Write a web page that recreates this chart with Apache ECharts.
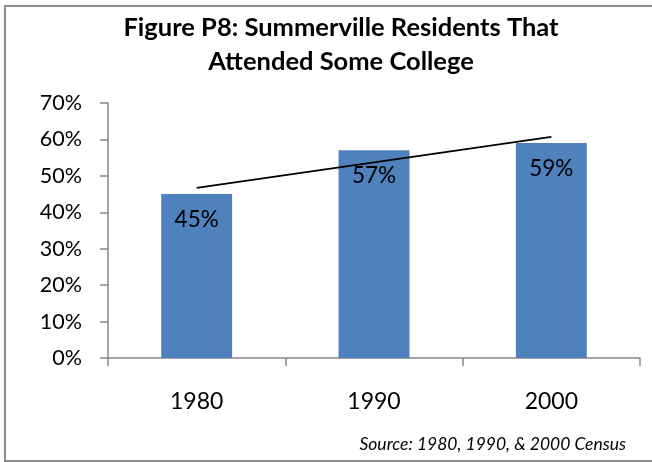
<!DOCTYPE html>
<html>
<head>
<meta charset="utf-8">
<script src="https://cdn.jsdelivr.net/npm/echarts@6/dist/echarts.min.js"></script>
<style>
  html, body { margin: 0; padding: 0; background: #fff; }
  #chart { width: 652px; height: 462px; }
</style>
</head>
<body>
<div id="chart"></div>
<script>
// values
const years = ['1980', '1990', '2000']
const attended = [45, 57, 59]
// linear trendline, read at each category centre
const trend = [46.7, 53.7, 60.7]

const font = 'Lato, "Liberation Sans", sans-serif'
const axisGray = '#868686'

const chart = echarts.init(document.getElementById('chart'))
const option = {
  animation: false,
  title: {
    text: 'Figure P8: Summerville Residents That\nAttended Some College',
    left: 336,
    top: 6,
    textAlign: 'center',
    textStyle: {
      fontFamily: font,
      fontWeight: 'bold',
      fontSize: 25.5,
      lineHeight: 34,
      color: '#000'
    }
  },
  graphic: [
    {
      type: 'rect',
      shape: { x: 5, y: 6, width: 700, height: 455 },
      style: { fill: 'none', stroke: '#8c8c8c', lineWidth: 2 },
      z: -1
    },
    {
      type: 'text',
      right: 26,
      top: 435,
      style: {
        text: 'Source: 1980, 1990, & 2000 Census',
        fontFamily: font,
        fontStyle: 'italic',
        fontSize: 17.5,
        fill: '#000'
      }
    }
  ],
  grid: { left: 108, right: 12, top: 103, bottom: 104 },
  xAxis: {
    type: 'category',
    data: years,
    axisLine: { lineStyle: { color: axisGray, width: 1.5 } },
    axisTick: { show: true, length: 8, lineStyle: { color: axisGray, width: 1.5 } },
    axisLabel: { fontFamily: font, fontSize: 23, color: '#000', margin: 32 }
  },
  yAxis: {
    type: 'value',
    min: 0,
    max: 70,
    interval: 10,
    splitLine: { show: false },
    axisLine: { show: true, lineStyle: { color: axisGray, width: 1.5 } },
    axisTick: { show: true, length: 8, lineStyle: { color: axisGray, width: 1.5 } },
    axisLabel: { fontFamily: font, fontSize: 21.5, color: '#000', margin: 26, formatter: '{value}%' }
  },
  series: [
    {
      type: 'bar',
      data: attended,
      barCategoryGap: '60%',
      itemStyle: { color: '#4f81bd' },
      label: {
        show: true,
        position: 'insideTop',
        distance: 14,
        formatter: '{c}%',
        fontFamily: font,
        fontSize: 22.5,
        color: '#000'
      }
    },
    {
      type: 'line',
      data: trend,
      symbol: 'none',
      lineStyle: { color: '#000', width: 2 },
      z: 3
    }
  ]
}
chart.setOption(option)
window.addEventListener('resize', () => {
  chart.resize()
})
</script>
</body>
</html>
